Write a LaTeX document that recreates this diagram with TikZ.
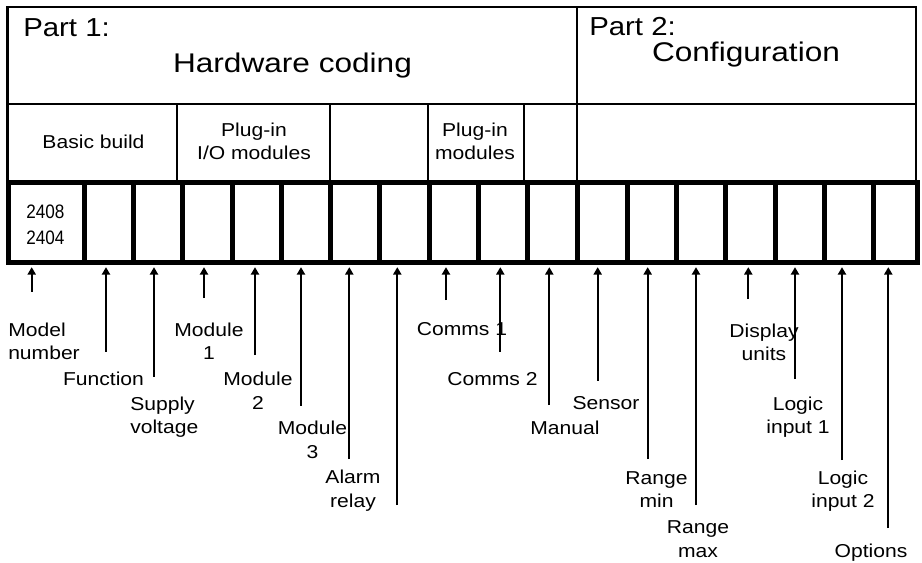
\documentclass[tikz,border=0pt]{standalone}
\usepackage{fontspec}
\setmainfont{Liberation Sans}
\usetikzlibrary{arrows.meta}
\newcommand\sx[1]{\scalebox{1.13}[1]{#1}}
\newcommand\tx[1]{\scalebox{1.17}[1]{#1}}
\newcommand\nx[1]{\scalebox{0.88}[1]{#1}}
\begin{document}
\begin{tikzpicture}[x=0.75pt,y=-0.75pt,
  thinline/.style={line width=1.7pt},
  thickline/.style={line width=3.75pt},
  cellb/.style={draw, line width=3.75pt, minimum height=60pt, inner sep=0pt},
  lab/.style={font=\fontsize{14}{17.6}\selectfont, align=center, anchor=base, inner sep=0pt},
  labl/.style={lab, align=left, anchor=base west},
  numtxt/.style={font=\fontsize{14.6}{19.5}\selectfont, align=left, anchor=base west, inner sep=0pt},
  parttxt/.style={font=\fontsize{19.5}{23}\selectfont, anchor=base west, inner sep=0pt},
  ttl/.style={font=\fontsize{20.25}{24}\selectfont, anchor=base, inner sep=0pt},
  arr/.style={line width=1.4pt, -{Triangle[width=6pt,length=5.5pt]}, shorten >=2pt}
]
\useasboundingbox (0,0) rectangle (922,562);

% header frame
\draw[thinline] (7.5,7) rectangle (916,182);
\draw[thinline] (7.5,104) -- (916,104);
\draw[thinline] (577,7) -- (577,182);
\foreach \xx in {177,330,428,524} \draw[thinline] (\xx,104) -- (\xx,182);

% header texts
\node[parttxt] (p1) at (23,36) {\sx{Part 1:}};
\node[ttl] (hw) at (292.5,72) {\tx{Hardware coding}};
\node[parttxt] (p2) at (589,35) {\sx{Part 2:}};
\node[ttl] (cf) at (746,61) {\tx{Configuration}};
\node[lab] (bb) at (93.5,148) {\sx{Basic build}};
\node[lab] (io) at (254,159.5) {\sx{Plug-in}\\\sx{I/O modules}};
\node[lab] (pm) at (475,159.5) {\sx{Plug-in}\\\sx{modules}};

% code cells
\foreach \i/\a/\b in {1/8/84,2/84/133,3/133/182.5,4/182.5/232,5/232/281,6/281/330,
  7/330/379,8/379/429,9/429/478,10/478/527,11/527/577,12/577/627,13/627/676,
  14/676/725,15/725/775,16/775/824,17/824/873,18/873/917}
  \node[cellb, minimum width={(\b-\a)*0.75pt}] (c\i) at ({(\a+\b)/2},222) {};

\node[numtxt] (mn) at (26,244) {\nx{2408}\\\nx{2404}};

% arrow tails
\foreach \i/\xx/\yy in {1/31.7/291.7,2/106/351.7,3/154/376.7,4/204/298,5/255/355,
  6/301/405.7,7/349.3/459,8/397.3/505,9/446/300,10/500.3/351.7,11/549.3/405,
  12/597.7/380.7,13/647.7/459,14/696/505,15/748.3/299,16/795/379,17/842/460,18/888.3/528}
  {\coordinate (a\i) at (\xx,\yy);
   \draw[arr] (a\i) -- (a\i |- c\i.south);}

% labels (base = baseline of the last line)
\node[labl] (l1) at (8,359.5) {\sx{Model}\\\sx{number}};
\node[lab] (l2) at (103.5,385) {\sx{Function}};
\node[labl] (l3) at (130,433.5) {\sx{Supply}\\\sx{voltage}};
\node[lab] (l4) at (209,359.5) {\sx{Module}\\\sx{1}};
\node[lab] (l5) at (258,409) {\sx{Module}\\\sx{2}};
\node[lab] (l6) at (312.5,458) {\sx{Module}\\\sx{3}};
\node[lab] (l7) at (353,507) {\sx{Alarm}\\\sx{relay}};
\node[lab] (l9) at (462,335) {\sx{Comms 1}};
\node[lab] (l10) at (492.5,385) {\sx{Comms 2}};
\node[lab] (l11) at (565,434) {\sx{Manual}};
\node[lab] (l12) at (606,409) {\sx{Sensor}};
\node[lab] (l13) at (656.5,507.5) {\sx{Range}\\\sx{min}};
\node[lab] (l14) at (698,557) {\sx{Range}\\\sx{max}};
\node[lab] (l15) at (764,360.5) {\sx{Display}\\\sx{units}};
\node[lab] (l16) at (798,433.5) {\sx{Logic}\\\sx{input 1}};
\node[lab] (l17) at (843,507.5) {\sx{Logic}\\\sx{input 2}};
\node[lab] (l18) at (871,557) {\sx{Options}};
\end{tikzpicture}
\end{document}
